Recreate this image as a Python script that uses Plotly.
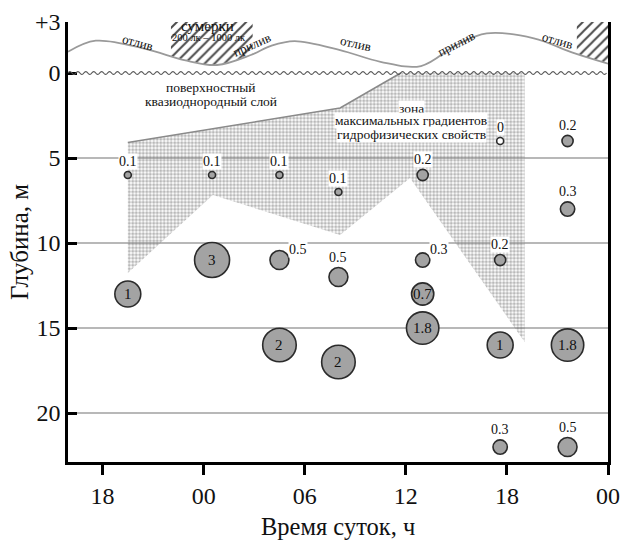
import math
import plotly.graph_objects as go

# ---------------- data ----------------
TIME_TICKS = [18, 24, 30, 36, 42, 48]
TIME_TICK_LABELS = ["18", "00", "06", "12", "18", "00"]
DEPTH_TICKS = [-3, 0, 5, 10, 15, 20]
DEPTH_TICK_LABELS = ["+3", "0", "5", "10", "15", "20"]
GRID_DEPTHS = [5, 10, 15, 20]

# sampling points: time (h, 24 = 00 h of next day), depth (m), value
sample_time = [19.5, 19.5, 24.5, 24.5, 28.5, 28.5, 28.5, 32.0, 32.0, 32.0,
               37.0, 37.0, 37.0, 37.0, 41.6, 41.6, 41.6, 41.6, 45.6, 45.6, 45.6, 45.6]
sample_depth = [6, 13, 6, 11, 6, 11, 16, 7, 12, 17,
                6, 11, 13, 15, 4, 11, 16, 22, 4, 8, 16, 22]
sample_value = [0.1, 1, 0.1, 3, 0.1, 0.5, 2, 0.1, 0.5, 2,
                0.2, 0.3, 0.7, 1.8, 0, 0.2, 1, 0.3, 0.2, 0.3, 1.8, 0.5]
sample_label = ["0.1", "1", "0.1", "3", "0.1", "0.5", "2", "0.1", "0.5", "2",
                "0.2", "0.3", "0.7", "1.8", "0", "0.2", "1", "0.3", "0.2", "0.3", "1.8", "0.5"]
label_place = ["top", "in", "top", "in", "top", "tr", "in", "top", "top", "in",
               "top", "tr", "in", "in", "top", "top", "in", "top", "top", "top", "in", "top"]

# tide level above the surface (m) vs time
tide_time = [15.95, 17.6, 20.6, 22.85, 24.8, 26.8, 28.0, 29.4, 32.1, 34.5,
             36.9, 39.0, 40.8, 43.6, 45.9, 48.0]
tide_level = [1.25, 1.9, 1.4, 0.76, 0.47, 1.06, 1.6, 1.88, 1.35, 0.66,
              0.41, 1.65, 2.33, 2.04, 1.2, 0.55]

tide_phase_text = ["отлив", "прилив", "отлив", "прилив", "отлив"]
tide_phase_time = [20.1, 26.9, 33.0, 39.0, 45.0]
tide_phase_level = [1.79, 1.65, 1.71, 1.76, 1.94]
tide_phase_angle = [15, -24, 13, -27, 16]

# twilight (200 lx - 1000 lx) intervals
twilight_start = [22.06, 46.15]
twilight_end = [26.91, 48.0]

# zone of maximal gradients of hydrophysical properties
zone_time = [19.5, 32.1, 35.7, 43.05, 43.05, 36.25, 32.1, 24.55, 19.5]
zone_depth = [4.09, 2.06, 0.0, 0.0, 15.82, 6.18, 9.53, 7.18, 11.76]

X_RANGE = [15.95, 48.0]
Y_RANGE = [22.88, -3.0]

FONT = "Liberation Serif"
BUBBLE_FILL = "#a3a3a3"
BUBBLE_LINE = "#2b2b2b"

fig = go.Figure()

# dotted gradient zone
fig.add_trace(go.Scatter(
    x=zone_time + [zone_time[0]], y=zone_depth + [zone_depth[0]],
    mode="lines", line=dict(width=0, color="rgba(0,0,0,0)"),
    fill="toself", fillcolor="rgba(0,0,0,0)",
    fillpattern=dict(shape=".", size=3.5, solidity=0.6, fgcolor="#737373",
                     bgcolor="rgba(0,0,0,0)", fillmode="overlay"),
    hoverinfo="skip", showlegend=False))
fig.add_trace(go.Scatter(
    x=zone_time[:3], y=zone_depth[:3], mode="lines",
    line=dict(color="#8a8a8a", width=1.6), hoverinfo="skip", showlegend=False))

# twilight hatching
for s, e in zip(twilight_start, twilight_end):
    fig.add_trace(go.Scatter(
        x=[s, e, e, s, s], y=[Y_RANGE[1], Y_RANGE[1], -0.3, -0.3, Y_RANGE[1]],
        mode="lines", line=dict(width=0, color="rgba(0,0,0,0)"),
        fill="toself", fillcolor="white",
        fillpattern=dict(shape="/", size=7, solidity=0.28, fgcolor="#4a4a4a",
                         bgcolor="white", fillmode="replace"),
        hoverinfo="skip", showlegend=False))

# white area below tide curve (clips hatching), then the tide curve
fig.add_trace(go.Scatter(
    x=tide_time, y=[-0.2] * len(tide_time), mode="lines",
    line=dict(width=0, color="rgba(0,0,0,0)"), hoverinfo="skip", showlegend=False))
fig.add_trace(go.Scatter(
    x=tide_time, y=[-v for v in tide_level], mode="lines",
    line=dict(color="#9a9a9a", width=1.8, shape="spline", smoothing=1.0),
    fill="tonexty", fillcolor="white", hoverinfo="skip", showlegend=False))

# bubbles: diameter grows logarithmically with value
diam = [max(7.0, min(35.0, 12.0 * math.log(1 + v / 0.13))) for v in sample_value]
fig.add_trace(go.Scatter(
    x=sample_time, y=sample_depth, mode="markers",
    marker=dict(size=diam, sizemode="diameter",
                color=["white" if v == 0 else BUBBLE_FILL for v in sample_value],
                line=dict(color=BUBBLE_LINE, width=1.6), opacity=1),
    hoverinfo="skip", showlegend=False))

annotations = []
for t, d, lab, pl, dm in zip(sample_time, sample_depth, sample_label, label_place, diam):
    r = dm / 2
    if pl == "in":
        annotations.append(dict(x=t, y=d, text=lab, showarrow=False,
                                font=dict(family=FONT, size=15, color="#111")))
    elif pl == "top":
        annotations.append(dict(x=t, y=d, text=lab, showarrow=False, yshift=r + 10,
                                bgcolor="white", borderpad=0,
                                font=dict(family=FONT, size=14, color="#111")))
    else:
        annotations.append(dict(x=t, y=d, text=lab, showarrow=False, yshift=11,
                                xshift=r + 9, bgcolor="white", borderpad=0,
                                font=dict(family=FONT, size=14, color="#111")))

for txt, t, lv, ang in zip(tide_phase_text, tide_phase_time, tide_phase_level, tide_phase_angle):
    annotations.append(dict(x=t, y=-lv, text=txt, textangle=ang, showarrow=False,
                            font=dict(family=FONT, size=13, color="#111")))

annotations += [
    dict(x=24.23, y=-2.78, text="сумерки", showarrow=False,
         font=dict(family=FONT, size=15, color="#111")),
    dict(x=24.32, y=-2.1, text="200 лк – 1000 лк", showarrow=False,
         font=dict(family=FONT, size=10.5, color="#111")),
    dict(x=24.43, y=0.88, text="поверхностный", showarrow=False,
         font=dict(family=FONT, size=13.5, color="#111")),
    dict(x=24.43, y=1.7, text="квазиоднородный слой", showarrow=False,
         font=dict(family=FONT, size=13.5, color="#111")),
    dict(x=36.33, y=2.06, text="зона", showarrow=False, bgcolor="white", borderpad=0,
         font=dict(family=FONT, size=13.5, color="#111")),
    dict(x=36.33, y=2.82, text="максимальных градиентов", showarrow=False,
         bgcolor="white", borderpad=0, font=dict(family=FONT, size=13.5, color="#111")),
    dict(x=36.33, y=3.59, text="гидрофизических свойств", showarrow=False,
         bgcolor="white", borderpad=0, font=dict(family=FONT, size=13.5, color="#111")),
    # axis titles
    dict(xref="paper", yref="paper", x=0.5, y=0, yshift=-64, yanchor="middle",
         xanchor="center", text="Время суток, ч",
         showarrow=False, font=dict(family=FONT, size=24.5, color="#111")),
    dict(xref="paper", yref="paper", x=0, xshift=-49, y=0.5, xanchor="center",
         yanchor="middle", text="Глубина, м",
         textangle=-90, showarrow=False, font=dict(family=FONT, size=25, color="#111")),
]

shapes = []
for g in GRID_DEPTHS:
    shapes.append(dict(type="line", xref="paper", x0=0, x1=1, yref="y", y0=g, y1=g,
                       line=dict(color="#a0a0a0", width=1.5), layer="below"))

# decorative wavy water-surface symbol along depth 0
step = 0.235
n = int((X_RANGE[1] - X_RANGE[0]) / step)
path = f"M {X_RANGE[0]},0"
for i in range(n):
    xa = X_RANGE[0] + (i + 0.5) * step
    xb = X_RANGE[0] + (i + 1) * step
    yc = -0.17 if i % 2 == 0 else 0.17
    path += f" Q {xa},{yc} {xb},0"
shapes.append(dict(type="path", xref="x", yref="y", path=path,
                   line=dict(color="#555555", width=1.2), layer="above"))

fig.update_layout(
    width=624, height=541,
    margin=dict(l=68, r=16, t=22, b=79, autoexpand=False),
    plot_bgcolor="white", paper_bgcolor="white",
    font=dict(family=FONT, color="#111"),
    annotations=annotations, shapes=shapes,
    xaxis=dict(range=X_RANGE, tickvals=TIME_TICKS, ticktext=TIME_TICK_LABELS,
               showgrid=False, zeroline=False, showline=True, linecolor="black",
               linewidth=2.5, ticks="outside", ticklen=10, tickwidth=2.5,
               tickcolor="black", tickfont=dict(family=FONT, size=24, color="#111"),
               automargin=False),
    yaxis=dict(range=Y_RANGE, tickvals=DEPTH_TICKS, ticktext=DEPTH_TICK_LABELS,
               showgrid=False, zeroline=False, showline=True, linecolor="black",
               linewidth=2.5, mirror=True, ticks="inside", ticklen=9, tickwidth=2.5,
               tickcolor="black", tickfont=dict(family=FONT, size=24, color="#111"),
               automargin=False),
)

fig.write_html("out.html", config={"displayModeBar": False},
               post_script="document.body.style.margin='0';document.body.style.padding='0';")
